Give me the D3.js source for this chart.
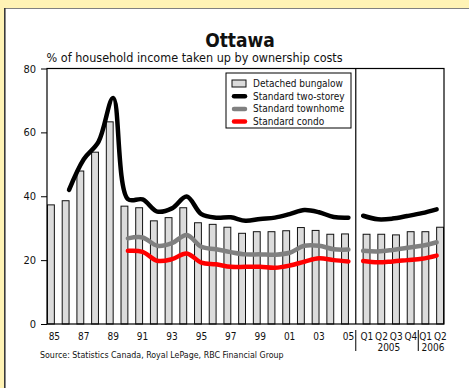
<!DOCTYPE html>
<html>
<head>
<meta charset="utf-8">
<script src="https://cdn.jsdelivr.net/npm/d3@7"></script>
<style>
  html, body { margin: 0; padding: 0; background: #fff3b5; }
  svg { display: block; }
  text { font-family: "DejaVu Sans", Verdana, sans-serif; font-stretch: condensed; fill: #111; }
</style>
</head>
<body>
<svg id="chart" width="469" height="388"></svg>
<script>
// Categories: annual 1985-2005, then quarterly 2005 Q1 - 2006 Q2
const years = ["1985","1986","1987","1988","1989","1990","1991","1992","1993","1994","1995",
               "1996","1997","1998","1999","2000","2001","2002","2003","2004","2005"];
const quarters = ["2005 Q1","2005 Q2","2005 Q3","2005 Q4","2006 Q1","2006 Q2"];

// % of household income taken up by ownership costs
const bungalow  = [37.3,38.6,47.9,53.8,63.3,36.9,36.4,32.3,33.3,36.4,31.7,31.2,30.3,28.4,28.9,28.9,29.2,30.2,29.3,28.1,28.2,
                   28.1,28.1,27.9,28.9,28.9,30.3];
const twoStorey = [null,42.0,51.6,57.0,70.8,39.1,39.0,35.2,36.2,39.9,34.4,33.3,33.4,32.3,32.9,33.3,34.4,35.7,35.0,33.5,33.3,
                   33.9,32.8,33.0,33.8,34.7,35.9];
const townhome  = [null,null,null,null,null,26.8,27.1,24.5,25.3,27.9,24.2,23.4,22.5,21.8,21.8,21.7,22.3,24.5,24.5,23.4,23.3,
                   22.9,22.7,23.2,23.9,24.5,25.6];
const condo     = [null,null,null,null,null,22.9,22.6,19.8,20.3,22.1,19.2,18.7,17.9,17.9,17.9,17.6,18.3,19.5,20.6,20.0,19.6,
                   19.7,19.3,19.6,20.0,20.4,21.4];

// Axis labels
const yTicks = [0, 20, 40, 60, 80];
const yearTickLabels = ["85","87","89","91","93","95","97","99","01","03","05"];
const quarterTickLabels = ["Q1","Q2","Q3","Q4","Q1","Q2"];
const quarterYearLabels = ["2005","2006"];

const seriesNames = ["Detached bungalow","Standard two-storey","Standard townhome","Standard condo"];
const lineColors = ["#000000","#808080","#ff0000"];

const categories = years.concat(quarters);
const svg = d3.select("#chart");

// Panel
svg.append("rect").attr("x", 4).attr("y", 8).attr("width", 465).attr("height", 380).attr("fill", "#fff");
svg.append("line").attr("x1", 4).attr("x2", 469).attr("y1", 8.5).attr("y2", 8.5).attr("stroke", "#808080").attr("stroke-width", 1);
svg.append("line").attr("x1", 4.8).attr("x2", 4.8).attr("y1", 8).attr("y2", 388).attr("stroke", "#3a3a3a").attr("stroke-width", 1.6);

const plot = { left: 47, right: 444, top: 68.5, bottom: 324 };

const x = d3.scaleBand().domain(categories).range([plot.left, plot.right]).paddingInner(0).paddingOuter(0);
const y = d3.scaleLinear().domain([0, 80]).range([plot.bottom, plot.top]);
const bw = x.bandwidth();
const cx = c => x(c) + bw / 2;

// Titles
svg.append("text").attr("x", 240).attr("y", 47).attr("text-anchor", "middle")
  .style("font-size", "19px").style("font-weight", "bold").text("Ottawa");
svg.append("text").attr("x", 46.5).attr("y", 61.5)
  .style("font-size", "12.5px").text("% of household income taken up by ownership costs");

// Bars: annual bars sit left of the category centre, quarterly bars right of it
const barData = categories.map((c, i) => ({ c, v: bungalow[i], q: i >= years.length }));
svg.append("g").selectAll("rect").data(barData).join("rect")
  .attr("x", d => d.q ? cx(d.c) : x(d.c) + 0.5)
  .attr("width", bw / 2 - 0.5)
  .attr("y", d => y(d.v))
  .attr("height", d => y(0) - y(d.v))
  .attr("fill", "#dcdcdc").attr("stroke", "#111").attr("stroke-width", 1);

// Smoothed lines, drawn in two segments (annual and quarterly)
const line = d3.line()
  .defined(d => d.v != null)
  .x(d => cx(d.c)).y(d => y(d.v))
  .curve(d3.curveCatmullRom.alpha(0.5));

[twoStorey, townhome, condo].forEach((vals, k) => {
  const pts = categories.map((c, i) => ({ c, v: vals[i] }));
  [pts.slice(0, years.length), pts.slice(years.length)].forEach(seg => {
    svg.append("path").datum(seg.filter(d => d.v != null)).attr("d", line)
      .attr("fill", "none").attr("stroke", lineColors[k])
      .attr("stroke-width", 4.5).attr("stroke-linecap", "round").attr("stroke-linejoin", "round");
  });
});

// Frame and divider between annual and quarterly data
svg.append("rect").attr("x", plot.left).attr("y", plot.top)
  .attr("width", plot.right - plot.left).attr("height", plot.bottom - plot.top)
  .attr("fill", "none").attr("stroke", "#000").attr("stroke-width", 1.2);
const divX = x(quarters[0]);
svg.append("line").attr("x1", divX).attr("x2", divX).attr("y1", plot.top).attr("y2", plot.bottom)
  .attr("stroke", "#000").attr("stroke-width", 1.2);

// Y axis
const yAxis = svg.append("g").attr("transform", `translate(${plot.left},0)`)
  .call(d3.axisLeft(y).tickValues(yTicks).tickSize(6).tickPadding(5));
yAxis.select(".domain").remove();
yAxis.selectAll("line").attr("stroke", "#000");
yAxis.selectAll("text").style("font-size", "11px").style("font-family", null).attr("fill", "#111");

// X labels
const labY = 340;
svg.append("g").selectAll("text").data(yearTickLabels).join("text")
  .attr("x", (d, i) => cx(years[i * 2])).attr("y", labY).attr("text-anchor", "middle")
  .style("font-size", "10px").text(d => d);
svg.append("g").selectAll("text").data(quarterTickLabels).join("text")
  .attr("x", (d, i) => cx(quarters[i]) + bw / 4).attr("y", labY).attr("text-anchor", "middle")
  .style("font-size", "10px").text(d => d);
svg.append("text").attr("x", (cx(quarters[0]) + cx(quarters[3])) / 2 + bw / 4).attr("y", labY + 11)
  .attr("text-anchor", "middle").style("font-size", "10px").text(quarterYearLabels[0]);
svg.append("text").attr("x", (cx(quarters[4]) + cx(quarters[5])) / 2 + bw / 4).attr("y", labY + 11)
  .attr("text-anchor", "middle").style("font-size", "10px").text(quarterYearLabels[1]);
[divX, (cx(quarters[3]) + cx(quarters[4])) / 2 + bw / 4].forEach(xx => {
  svg.append("line").attr("x1", xx).attr("x2", xx).attr("y1", 330).attr("y2", 351)
    .attr("stroke", "#000").attr("stroke-width", 1);
});

// Source
svg.append("text").attr("x", 40).attr("y", 358).style("font-size", "8.8px")
  .text("Source: Statistics Canada, Royal LePage, RBC Financial Group");

// Legend
const lg = svg.append("g").attr("transform", "translate(226,73)");
lg.append("rect").attr("width", 125).attr("height", 55).attr("fill", "#fff")
  .attr("stroke", "#000").attr("stroke-width", 1);
seriesNames.forEach((name, i) => {
  const ry = 10.5 + i * 12.7;
  if (i === 0) {
    lg.append("rect").attr("x", 6).attr("y", ry - 3.5).attr("width", 14).attr("height", 7)
      .attr("fill", "#dcdcdc").attr("stroke", "#111").attr("stroke-width", 1);
  } else {
    lg.append("line").attr("x1", 8).attr("x2", 19).attr("y1", ry).attr("y2", ry)
      .attr("stroke", lineColors[i - 1]).attr("stroke-width", 4.5).attr("stroke-linecap", "round");
  }
  lg.append("text").attr("x", 27).attr("y", ry + 3.5).style("font-size", "10px").text(name);
});
</script>
</body>
</html>
